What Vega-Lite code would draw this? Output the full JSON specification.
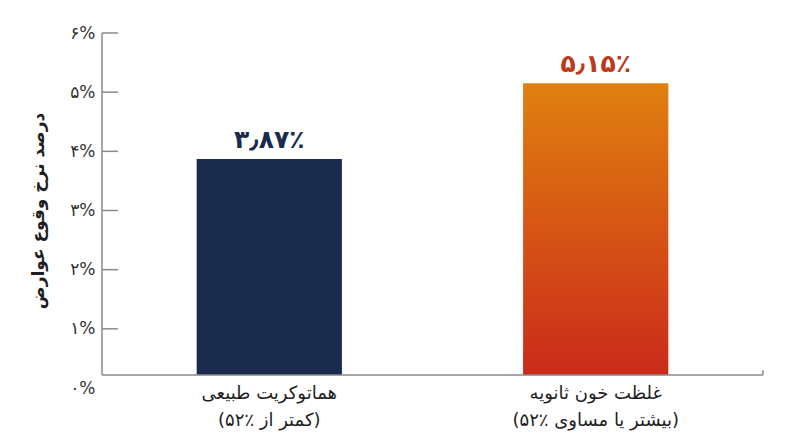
{
  "$schema": "https://vega.github.io/schema/vega-lite/v6.json",
  "width": 661,
  "height": 355,
  "autosize": "none",
  "padding": {"left": 102, "top": 33, "right": 37, "bottom": 59},
  "background": "white",
  "config": {
    "view": {"stroke": null},
    "font": "DejaVu Sans"
  },
  "data": {
    "values": [
      {"group": "هماتوکریت طبیعی|(کمتر از ٪۵۲)", "rate": 3.87, "label": "۳٫۸۷٪", "kind": "normal"},
      {"group": "غلظت خون ثانویه|(بیشتر یا مساوی ٪۵۲)", "rate": 5.15, "label": "۵٫۱۵٪", "kind": "high"}
    ]
  },
  "layer": [
    {
      "mark": {"type": "bar"},
      "encoding": {
        "x": {
          "field": "group",
          "type": "nominal",
          "sort": null,
          "scale": {"paddingInner": 0.555, "paddingOuter": 0.29},
          "axis": {
            "title": null,
            "domain": false,
            "ticks": false,
            "labelAngle": 0,
            "labelExpr": "split(datum.label, '|')",
            "labelFontSize": 18,
            "labelColor": "#1e1e1e",
            "labelPadding": -4,
            "labelLineHeight": 27
          }
        },
        "y": {
          "field": "rate",
          "type": "quantitative",
          "scale": {"domain": [0, 6], "nice": false},
          "axis": {
            "title": "درصد نرخ وقوع عوارض",
            "titleFontSize": 17,
            "titleFontWeight": "bold",
            "titleColor": "#1e1e1e",
            "titlePadding": 22,
            "values": [0, 1, 2, 3, 4, 5, 6],
            "labelExpr": "replace(replace(replace(replace(replace(replace(replace(format(datum.value, 'd'), '0', '۰'), '1', '۱'), '2', '۲'), '3', '۳'), '4', '۴'), '5', '۵'), '6', '۶') + '%'",
            "labelFontSize": 17,
            "labelColor": "#333333",
            "labelPadding": 7,
            "domain": false,
            "ticks": false,
            "grid": false
          }
        },
        "y2": {"datum": 0.22},
        "color": {
          "condition": {
            "test": "datum.kind === 'high'",
            "value": {
              "gradient": "linear",
              "x1": 0, "y1": 0, "x2": 0, "y2": 1,
              "stops": [
                {"offset": 0, "color": "#e0800f"},
                {"offset": 1, "color": "#cb2a1a"}
              ]
            }
          },
          "value": "#1a2b4e"
        }
      }
    },
    {
      "mark": {"type": "text", "baseline": "bottom", "dy": -6, "fontSize": 25, "fontWeight": "bold"},
      "encoding": {
        "x": {"field": "group", "type": "nominal", "sort": null},
        "y": {"field": "rate", "type": "quantitative"},
        "text": {"field": "label"},
        "color": {
          "condition": {"test": "datum.kind === 'high'", "value": "#bb3a1c"},
          "value": "#1a2b4e"
        }
      }
    },
    {
      "data": {"values": [{"t": 1}, {"t": 2}, {"t": 3}, {"t": 4}, {"t": 5}, {"t": 6}]},
      "mark": {"type": "rule", "color": "#8a8a8a", "strokeWidth": 1.5},
      "encoding": {
        "x": {"value": 0},
        "x2": {"value": 16},
        "y": {"field": "t", "type": "quantitative"}
      }
    },
    {
      "data": {"values": [{"lo": 0.22, "hi": 6}]},
      "mark": {"type": "rule", "color": "#8a8a8a", "strokeWidth": 1.5},
      "encoding": {
        "x": {"value": 0},
        "y": {"field": "lo", "type": "quantitative"},
        "y2": {"field": "hi"}
      }
    },
    {
      "data": {"values": [{"lo": 0.22}]},
      "mark": {"type": "rule", "color": "#8a8a8a", "strokeWidth": 1.5},
      "encoding": {
        "y": {"field": "lo", "type": "quantitative"}
      }
    },
    {
      "data": {"values": [{"lo": 0.22, "hi": 0.3}]},
      "mark": {"type": "rule", "color": "#8a8a8a", "strokeWidth": 1.5},
      "encoding": {
        "x": {"value": 661},
        "y": {"field": "lo", "type": "quantitative"},
        "y2": {"field": "hi"}
      }
    }
  ]
}
